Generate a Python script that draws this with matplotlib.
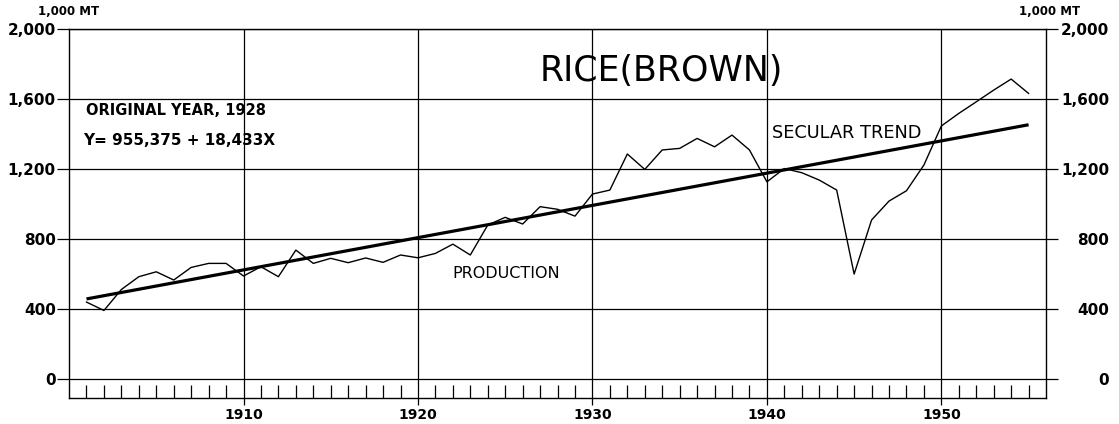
import numpy as np
import matplotlib
matplotlib.use("Agg")
import matplotlib.pyplot as plt

# production, 1,000 metric tons
years = list(range(1901, 1956))
production = [440, 392, 512, 585, 613, 566, 638, 661, 661, 589,
              642, 585, 737, 661, 690, 665, 692, 667, 709, 693,
              718, 771, 709, 880, 924, 886, 985, 970, 931, 1057,
              1080, 1286, 1198, 1309, 1318, 1375, 1327, 1394, 1309, 1127,
              1203, 1179, 1137, 1080, 600, 909, 1017, 1076, 1223, 1446,
              1518, 1584, 1651, 1714, 1632]

# secular trend end points (Y = 955,375 + 18,433X, origin 1928)
trend_years = [1901, 1955]
trend_values = [458, 1453]

yticks = [0, 400, 800, 1200, 1600, 2000]
ylabels = ["0", "400", "800", "1,200", "1,600", "2,000"]
decades = [1910, 1920, 1930, 1940, 1950]

fig = plt.figure(figsize=(11.19, 4.24), dpi=100)
ax = fig.add_axes([0.0617, 0.0613, 0.8731, 0.8703])

ax.set_xlim(1900, 1956)
ax.set_ylim(-108, 2000)

for y in yticks:
    ax.axhline(y, color="black", lw=0.9, zorder=1)
for x in decades:
    ax.axvline(x, color="black", lw=0.9, zorder=1)

ax.plot(years, production, color="black", lw=1.0, zorder=3)
ax.plot(trend_years, trend_values, color="black", lw=2.3, zorder=4,
        solid_capstyle="butt")

for sp in ax.spines.values():
    sp.set_linewidth(1.0)

ax.set_xticks(decades)
ax.set_xticklabels([str(d) for d in decades], fontsize=10, fontweight="bold")
ax.set_xticks([y for y in range(1901, 1956) if y % 10 != 0], minor=True)
ax.tick_params(axis="x", which="major", direction="out", length=5, width=0.9, pad=2)
ax.tick_params(axis="x", which="minor", direction="in", length=9.5, width=0.9)

ax.set_yticks(yticks)
ax.set_yticklabels(ylabels, fontsize=11, fontweight="bold")
ax.tick_params(axis="y", direction="out", length=8.5, width=0.9, pad=1)

ax2 = ax.twinx()
ax2.set_ylim(ax.get_ylim())
ax2.set_yticks(yticks)
ax2.set_yticklabels(ylabels, fontsize=11, fontweight="bold")
for t in ax2.get_yticklabels():
    t.set_horizontalalignment("right")
ax2.tick_params(axis="y", direction="out", length=8.5, width=0.9, pad=37)
for sp in ax2.spines.values():
    sp.set_visible(False)

fig.text(0.034, 0.972, "1,000 MT", fontsize=8.5, fontweight="bold", va="center")
fig.text(0.911, 0.972, "1,000 MT", fontsize=8.5, fontweight="bold", va="center")

ax.text(1901.0, 1535, "ORIGINAL YEAR, 1928", fontsize=10.5, fontweight="bold",
        va="center")
ax.text(1900.8, 1365, "Y= 955,375 + 18,433X", fontsize=11, fontweight="bold",
        va="center")
ax.text(1927.0, 1760, "RICE(BROWN)", fontsize=25, va="center")
ax.text(1940.3, 1405, "SECULAR TREND", fontsize=12.8, va="center")
ax.text(1922.0, 605, "PRODUCTION", fontsize=11.5, va="center")

fig.savefig("out.png", dpi=100)
